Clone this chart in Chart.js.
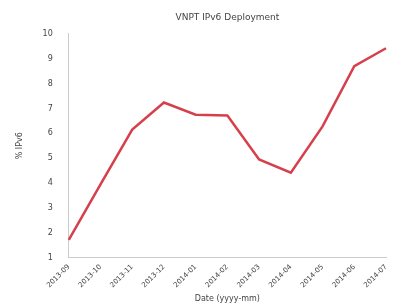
<!DOCTYPE html>
<html>
<head>
<meta charset="utf-8">
<script src="https://cdn.jsdelivr.net/npm/chart.js@4"></script>
<style>
  html, body { margin: 0; padding: 0; background: #fff; }
  #wrap { width: 395px; height: 308px; }
</style>
</head>
<body>
<div id="wrap"><canvas id="c"></canvas></div>
<script>
// data
const months = ["2013-09", "2013-10", "2013-11", "2013-12", "2014-01", "2014-02",
                "2014-03", "2014-04", "2014-05", "2014-06", "2014-07"];
const ipv6Pct = [1.72, 3.95, 6.15, 7.24, 6.75, 6.72, 4.95, 4.42, 6.28, 8.7, 9.42];
const yTicks = [1, 2, 3, 4, 5, 6, 7, 8, 9, 10];

const textColor = "#444";
const axisColor = "#ccc";

new Chart(document.getElementById("c"), {
  type: "line",
  data: {
    labels: months,
    datasets: [{
      data: ipv6Pct,
      borderColor: "#d6404c",
      borderWidth: 2.5,
      pointRadius: 0,
      tension: 0,
      fill: false
    }]
  },
  options: {
    responsive: true,
    maintainAspectRatio: false,
    animation: false,
    layout: { padding: { top: 2, right: 9, left: 15, bottom: 4 } },
    plugins: {
      legend: { display: false },
      tooltip: { enabled: false },
      title: {
        display: true,
        text: "VNPT IPv6 Deployment",
        fullSize: false,
        color: textColor,
        font: { family: "DejaVu Sans", size: 9, weight: "normal" },
        padding: { top: 10, bottom: 11 }
      }
    },
    scales: {
      x: {
        offset: false,
        grid: { display: false, drawTicks: true, tickLength: 4, color: axisColor },
        border: { color: axisColor },
        ticks: {
          color: textColor,
          font: { family: "DejaVu Sans", size: 7 },
          minRotation: 45,
          maxRotation: 45,
          autoSkip: false,
          padding: 1
        },
        title: {
          display: true,
          text: "Date (yyyy-mm)",
          color: textColor,
          font: { family: "DejaVu Sans", size: 8 },
          padding: { top: 4, bottom: 0 }
        }
      },
      y: {
        min: 1,
        max: 10,
        afterBuildTicks: axis => { axis.ticks = yTicks.map(v => ({ value: v })); },
        grid: { display: false, drawTicks: true, tickLength: 4, color: axisColor },
        border: { color: axisColor },
        ticks: {
          color: textColor,
          font: { family: "DejaVu Sans", size: 8 },
          padding: 12
        },
        title: {
          display: true,
          text: "% IPv6",
          color: textColor,
          font: { family: "DejaVu Sans", size: 8 },
          padding: { top: 0, bottom: 6 }
        }
      }
    }
  }
});
</script>
</body>
</html>
